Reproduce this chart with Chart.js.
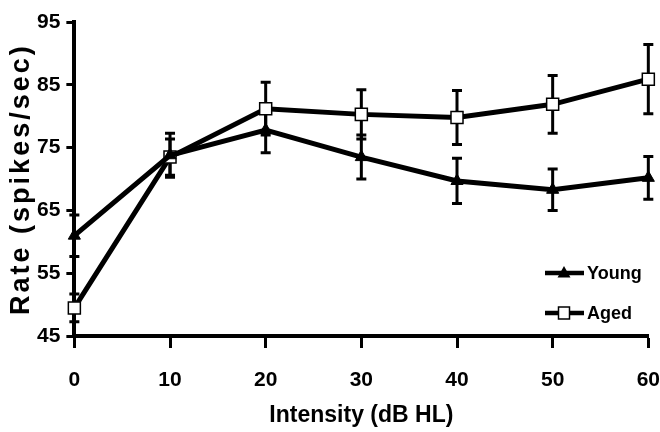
<!DOCTYPE html>
<html>
<head>
<meta charset="utf-8">
<script src="https://cdn.jsdelivr.net/npm/chart.js@4.4.0/dist/chart.umd.min.js"></script>
<style>
  body { margin: 0; background: #fff; }
  #wrap { width: 660px; height: 432px; position: relative; }
</style>
</head>
<body>
<div id="wrap"><canvas id="rateChart"></canvas></div>
<script>
const intensity = [0, 10, 20, 30, 40, 50, 60];
const youngRate = [61.0, 73.8, 77.8, 73.5, 69.7, 68.3, 70.2];
const youngErr = [3.3, 3.5, 3.6, 3.5, 3.6, 3.3, 3.4];
const agedRate = [49.5, 73.5, 81.2, 80.3, 79.8, 81.9, 85.9];
const agedErr = [2.2, 2.9, 4.2, 3.9, 4.3, 4.6, 5.5];
const seriesNames = ['Young', 'Aged'];
const yTitle = 'Rate (spikes/sec)';
const xTitle = 'Intensity (dB HL)';

const fam = "'Liberation Sans', Arial, sans-serif";

// error bars under the markers
const errorBars = {
  id: 'errorBars',
  beforeDatasetsDraw(chart) {
    const { ctx, scales: { x, y } } = chart;
    ctx.save();
    ctx.strokeStyle = '#000';
    ctx.lineWidth = 3;
    [[youngRate, youngErr], [agedRate, agedErr]].forEach(([vals, errs]) => {
      vals.forEach((v, i) => {
        const px = x.getPixelForValue(intensity[i]);
        const top = y.getPixelForValue(v + errs[i]);
        const bot = y.getPixelForValue(v - errs[i]);
        ctx.beginPath();
        ctx.moveTo(px, top); ctx.lineTo(px, bot);
        ctx.moveTo(px - 5, top); ctx.lineTo(px + 5, top);
        ctx.moveTo(px - 5, bot); ctx.lineTo(px + 5, bot);
        ctx.stroke();
      });
    });
    ctx.restore();
  }
};

function marker(ctx, style, x, y) {
  ctx.beginPath();
  if (style === 'triangle') {
    ctx.moveTo(x, y - 7);
    ctx.lineTo(x + 6.5, y + 4.5);
    ctx.lineTo(x - 6.5, y + 4.5);
    ctx.closePath();
    ctx.fillStyle = '#000';
    ctx.fill();
  } else {
    ctx.rect(x - 5.5, y - 6, 11, 12);
    ctx.fillStyle = '#fff';
    ctx.fill();
    ctx.lineWidth = 1.5;
    ctx.strokeStyle = '#000';
    ctx.stroke();
  }
}

// legend in lower right + spaced y title
const extras = {
  id: 'extras',
  afterDraw(chart) {
    const { ctx, chartArea } = chart;
    ctx.save();
    chart.data.datasets.forEach((ds, i) => {
      const ly = 273 + i * 40;
      ctx.beginPath();
      ctx.moveTo(545, ly); ctx.lineTo(584, ly);
      ctx.lineWidth = 4.5;
      ctx.strokeStyle = '#000';
      ctx.stroke();
      marker(ctx, ds.pointStyle, 564, ly);
      ctx.fillStyle = '#000';
      ctx.font = 'bold 18px ' + fam;
      ctx.textAlign = 'left';
      ctx.textBaseline = 'middle';
      ctx.fillText(ds.label, 587, ly + 1);
    });

    ctx.translate(22, (chartArea.top + chartArea.bottom) / 2);
    ctx.rotate(-Math.PI / 2);
    ctx.font = 'bold 27px ' + fam;
    ctx.letterSpacing = '3px';
    ctx.textAlign = 'center';
    ctx.textBaseline = 'middle';
    ctx.fillStyle = '#000';
    ctx.fillText(yTitle, 0, 0);
    ctx.restore();
  }
};

new Chart(document.getElementById('rateChart'), {
  type: 'line',
  data: {
    datasets: [
      {
        label: seriesNames[0],
        data: intensity.map((v, i) => ({ x: v, y: youngRate[i] })),
        borderColor: '#000',
        borderWidth: 5,
        pointStyle: 'triangle',
        pointRadius: 7,
        pointBackgroundColor: '#000',
        pointBorderColor: '#000',
        pointBorderWidth: 1,
        clip: false
      },
      {
        label: seriesNames[1],
        data: intensity.map((v, i) => ({ x: v, y: agedRate[i] })),
        borderColor: '#000',
        borderWidth: 5,
        pointStyle: 'rect',
        pointRadius: 8.5,
        pointBackgroundColor: '#fff',
        pointBorderColor: '#000',
        pointBorderWidth: 1.5,
        clip: false
      }
    ]
  },
  options: {
    responsive: true,
    maintainAspectRatio: false,
    animation: false,
    layout: { autoPadding: false, padding: { left: 31, top: 22, right: 0, bottom: 0 } },
    plugins: { legend: { display: false }, tooltip: { enabled: false } },
    scales: {
      x: {
        type: 'linear',
        min: 0, max: 60,
        border: { display: true, width: 4, color: '#000' },
        // long tick, dashed so only the first 10px shows: pushes labels down
        grid: { drawOnChartArea: false, tickLength: 31, tickBorderDash: [10, 60], tickWidth: 3, tickColor: '#000' },
        ticks: { stepSize: 10, padding: 0, color: '#000', font: { family: fam, size: 21, weight: 'bold' } },
        title: { display: true, text: xTitle, color: '#000', padding: { top: 9, bottom: 3 }, font: { family: fam, size: 23, weight: 'bold' } }
      },
      y: {
        min: 45, max: 95,
        border: { display: true, width: 4, color: '#000' },
        grid: { drawOnChartArea: false, tickLength: 8, tickWidth: 3, tickColor: '#000' },
        ticks: { stepSize: 10, padding: 6, color: '#000', font: { family: fam, size: 21, weight: 'bold' } }
      }
    }
  },
  plugins: [errorBars, extras]
});
</script>
</body>
</html>
